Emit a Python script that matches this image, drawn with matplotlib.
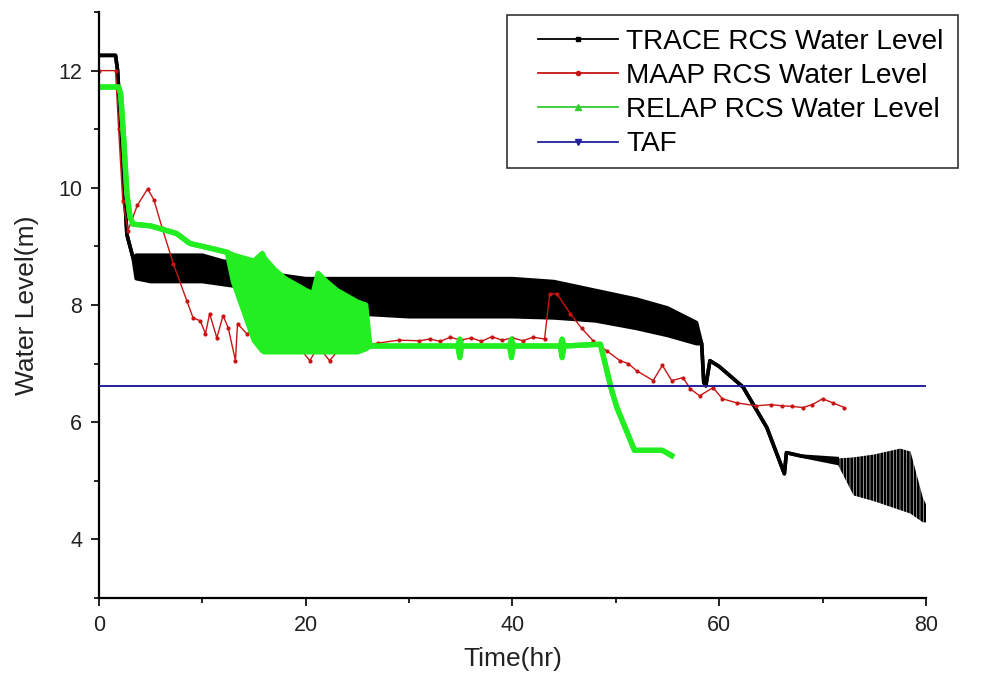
import matplotlib
matplotlib.use("Agg")
import matplotlib.pyplot as plt
from matplotlib.lines import Line2D
from matplotlib.patches import Rectangle
from matplotlib.ticker import MultipleLocator

plt.rcParams['font.family'] = ['Liberation Sans', 'DejaVu Sans']
plt.rcParams['hatch.linewidth'] = 2.0

# TRACE: noisy signal kept as upper / lower envelope (equal where the curve is clean)
trace_t = [0, 1.6, 1.8, 2.7, 3.3, 3.6, 5, 8, 10, 12, 14, 16, 18, 20, 22, 25, 30, 35, 40,
           44, 48, 52, 55, 57.8, 58.3, 58.5, 58.7, 59.1, 60.0, 62.3, 64.6, 66.3, 66.5,
           68.0, 71.4]
trace_hi = [12.26, 12.26, 12.0, 9.2, 8.8, 8.85, 8.85, 8.85, 8.85, 8.75, 8.7, 8.55, 8.5,
            8.45, 8.45, 8.45, 8.45, 8.45, 8.45, 8.4, 8.25, 8.1, 7.95, 7.7, 7.34, 6.68,
            6.62, 7.05, 6.95, 6.6, 5.91, 5.12, 5.48, 5.42, 5.38]
trace_lo = [12.26, 12.26, 12.0, 9.2, 8.8, 8.45, 8.4, 8.4, 8.4, 8.35, 8.3, 8.2, 8.15,
            8.05, 7.95, 7.85, 7.8, 7.8, 7.8, 7.78, 7.73, 7.6, 7.48, 7.34, 7.34, 6.68,
            6.62, 7.05, 6.95, 6.6, 5.91, 5.12, 5.48, 5.42, 5.3]
# TRACE late part: sparse spiky oscillation, envelope only
trace_end_t = [71.4, 73, 75, 77.5, 78.5, 79.7, 80]
trace_end_hi = [5.38, 5.4, 5.45, 5.55, 5.5, 4.71, 4.6]
trace_end_lo = [5.3, 4.75, 4.65, 4.5, 4.44, 4.29, 4.29]

maap_t = [0, 1.6, 1.9, 2.3, 2.8, 3.7, 4.7, 5.3, 6.1, 7.2, 8.5, 9.1, 9.8, 10.3, 10.7,
          11.4, 12.0, 12.5, 13.2, 13.4, 14.3, 15.2, 16.0, 17.0, 18.0, 19.0, 20.4, 21.2,
          22.3, 23.5, 25.0, 27.0, 29.0, 31.0, 32.0, 33.0, 34.0, 35.0, 36.0, 37.0, 38.0,
          39.0, 40.0, 41.0, 42.0, 43.1, 43.6, 44.3, 45.6, 46.7, 47.8, 49.1, 50.4, 51.2,
          52.0, 53.6, 54.5, 55.4, 56.5, 57.2, 58.1, 59.4, 60.3, 61.7, 63.6, 65.0, 66.1,
          67.0, 68.1, 69.0, 70.0, 71.0, 72.1]
maap_y = [12.0, 12.0, 11.0, 9.78, 9.27, 9.7, 9.98, 9.8, 9.32, 8.7, 8.07, 7.78, 7.73,
          7.51, 7.85, 7.44, 7.82, 7.61, 7.05, 7.68, 7.51, 7.6, 7.4, 7.5, 7.3, 7.35, 7.05,
          7.3, 7.05, 7.3, 7.3, 7.35, 7.4, 7.39, 7.42, 7.38, 7.45, 7.4, 7.44, 7.38, 7.46,
          7.4, 7.44, 7.39, 7.45, 7.42, 8.19, 8.19, 7.85, 7.6, 7.39, 7.22, 7.05, 7.0, 6.88,
          6.71, 6.97, 6.71, 6.76, 6.57, 6.45, 6.59, 6.4, 6.33, 6.28, 6.3, 6.28, 6.27,
          6.25, 6.3, 6.4, 6.33, 6.25]

relap_t = [0, 1.9, 2.1, 2.4, 2.7, 3.0, 3.3, 5, 7.5, 8.8, 11, 12.4, 13, 14, 15, 15.8, 16,
           17, 18, 19, 20, 20.7, 21.2, 22, 23, 24, 25, 25.8, 26.2, 34.7, 34.9, 35.1,
           39.7, 39.9, 40.1, 44.6, 44.8, 45.0, 48.5, 49.6, 50.1, 51.8, 54.5, 55.4]
relap_hi = [11.72, 11.72, 11.6, 10.8, 9.9, 9.5, 9.38, 9.35, 9.22, 9.05, 8.96, 8.9, 8.85,
            8.8, 8.75, 8.88, 8.8, 8.6, 8.45, 8.35, 8.25, 8.19, 8.54, 8.4, 8.25, 8.15,
            8.05, 8.0, 7.3, 7.3, 7.42, 7.3, 7.3, 7.42, 7.3, 7.3, 7.42, 7.3, 7.33, 6.54,
            6.25, 5.52, 5.52, 5.43]
relap_lo = [11.72, 11.72, 11.6, 10.8, 9.9, 9.5, 9.38, 9.35, 9.22, 9.05, 8.96, 8.9, 8.4,
            7.9, 7.4, 7.22, 7.2, 7.2, 7.2, 7.2, 7.2, 7.2, 7.2, 7.2, 7.2, 7.2, 7.2, 7.25,
            7.3, 7.3, 7.1, 7.3, 7.3, 7.1, 7.3, 7.3, 7.1, 7.3, 7.33, 6.54, 6.25, 5.52,
            5.52, 5.43]

taf_t = [0, 80]
taf_y = [6.62, 6.62]

labels = ['TRACE RCS Water Level', 'MAAP RCS Water Level', 'RELAP RCS Water Level', 'TAF']
c_trace, c_maap, c_relap, c_taf = 'black', '#c81414', '#22ee22', '#22229a'

fig = plt.figure(figsize=(9.89, 6.91), dpi=100)
ax = fig.add_axes([0.1001, 0.1346, 0.8362, 0.848])

# TRACE
ax.fill_between(trace_t, trace_lo, trace_hi, color=c_trace, lw=0, zorder=1)
ax.plot(trace_t, trace_hi, color=c_trace, lw=2.6, zorder=1.1)
ax.plot(trace_t, trace_lo, color=c_trace, lw=2.6, zorder=1.1)
ax.fill_between(trace_end_t, trace_end_lo, trace_end_hi, facecolor='none',
                edgecolor=c_trace, hatch='|||||', lw=0, zorder=1)

# MAAP
ax.plot(maap_t, maap_y, color=c_maap, lw=1.0, marker='o', markersize=2, zorder=1.5)

# RELAP
ax.fill_between(relap_t, relap_lo, relap_hi, color=c_relap, lw=0, zorder=2)
ax.plot(relap_t, relap_hi, color=c_relap, lw=3.8, solid_joinstyle='round', zorder=2.1)
ax.plot(relap_t, relap_lo, color=c_relap, lw=3.8, solid_joinstyle='round', zorder=2.1)

# TAF
ax.plot(taf_t, taf_y, color=c_taf, lw=1.4, zorder=3)

ax.set_xlim(0, 80)
ax.set_ylim(3, 13)
ax.xaxis.set_major_locator(MultipleLocator(20))
ax.xaxis.set_minor_locator(MultipleLocator(10))
ax.yaxis.set_major_locator(MultipleLocator(2))
ax.yaxis.set_minor_locator(MultipleLocator(1))
ax.spines['top'].set_visible(False)
ax.spines['right'].set_visible(False)
for s in ('left', 'bottom'):
    ax.spines[s].set_linewidth(1.6)
ax.tick_params(which='major', length=6, width=1.4, labelsize=15.5, colors='#222222', pad=6)
ax.tick_params(which='minor', length=3.5, width=1.2)

ax.set_xlabel('Time(hr)', fontsize=19, color='#222222', labelpad=8)
ax.set_ylabel('Water Level(m)', fontsize=19, color='#222222', labelpad=14)

handles = [
    Line2D([], [], color=c_trace, lw=1.3, marker='s', markersize=3),
    Line2D([], [], color=c_maap, lw=1.3, marker='o', markersize=3),
    Line2D([], [], color='#33cc33', lw=1.3, marker='^', markersize=4),
    Line2D([], [], color=c_taf, lw=1.3, marker='v', markersize=4),
]
fig.legend(handles, labels, loc='upper left', bbox_to_anchor=(538 / 989, 1 - 29 / 691),
           frameon=False, fontsize=20.2, handlelength=2.85, handletextpad=0.3,
           labelspacing=0.29, borderpad=0, borderaxespad=0)
fig.patches.append(Rectangle((507 / 989, 1 - 168 / 691), 451 / 989, 153 / 691,
                             transform=fig.transFigure, fill=False, edgecolor='#333333',
                             lw=1.2))

fig.savefig('out.png', dpi=100)
